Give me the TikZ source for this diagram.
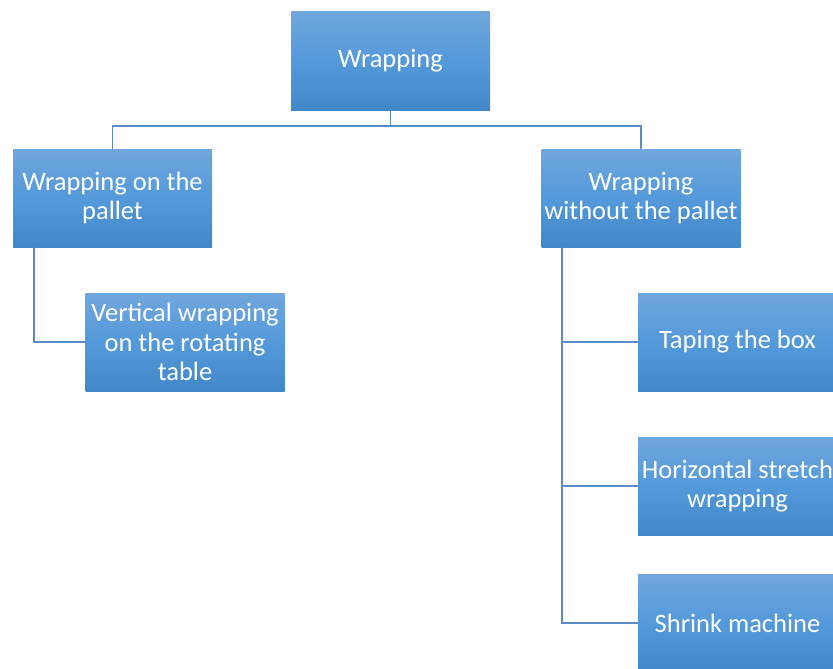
\documentclass[tikz,border=0pt]{standalone}
\usepackage{fontspec}
\setmainfont{Carlito}
\definecolor{boxtop}{RGB}{112,167,221}
\definecolor{boxmid}{RGB}{84,153,218}
\definecolor{boxbot}{RGB}{66,136,201}
\definecolor{conn}{RGB}{91,140,196}
\begin{document}
\begin{tikzpicture}[x=1pt,y=-1pt,
  ibox/.style={minimum width=199pt,minimum height=98pt,inner sep=0pt,
    top color=boxtop,bottom color=boxbot,middle color=boxmid,
    text=white,align=center,font=\fontsize{26.5}{29.5}\selectfont},
  link/.style={draw=conn,line width=1.3pt}]
\useasboundingbox (0,0) rectangle (833,669);
\clip (0,0) rectangle (833,669);
\node[ibox] (root) at (390.5,61) {Wrapping};
\node[ibox] (pal) at (112.5,198) {Wrapping on the\\pallet};
\node[ibox] (wo) at (641,198) {Wrapping\\without the pallet};
\node[ibox] (vert) at (185,342) {Vertical wrapping\\on the rotating\\table};
\node[ibox] (tap) at (737.5,342) {Taping the box};
\node[ibox] (hor) at (737.5,486) {Horizontal stretch\\wrapping};
\node[ibox] (shr) at (737.5,623) {Shrink machine};
\coordinate (bus) at (390.5,126);
\draw[link] (root.south) -- (bus) -| (pal.north);
\draw[link] (bus) -| (wo.north);
\draw[link] ([xshift=-78.5pt]pal.south) |- (vert.west);
\draw[link] ([xshift=-79pt]wo.south) |- (tap.west);
\draw[link] ([xshift=-79pt]wo.south) |- (hor.west);
\draw[link] ([xshift=-79pt]wo.south) |- (shr.west);
\end{tikzpicture}
\end{document}
